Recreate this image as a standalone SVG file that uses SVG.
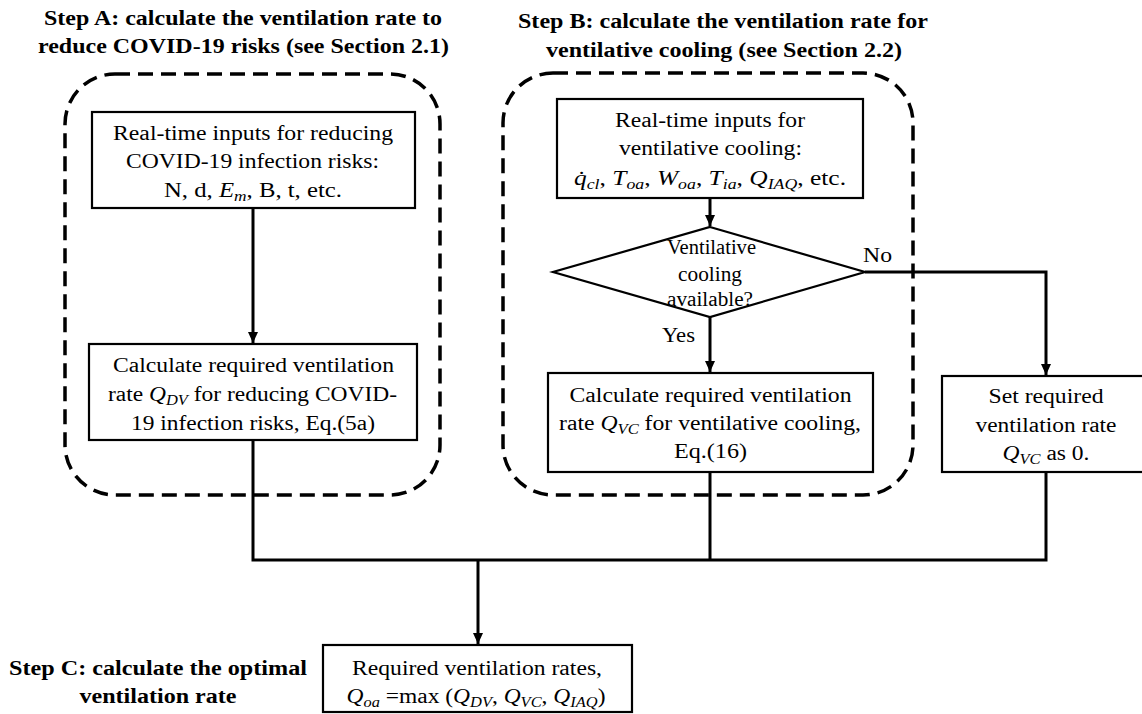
<svg xmlns="http://www.w3.org/2000/svg" width="1142" height="714" viewBox="0 0 1142 714">
<defs>
<style>
text{font-family:"Liberation Serif","Times New Roman",serif;font-size:20px;fill:#000;text-anchor:middle}
.t{font-weight:bold}
.m{font-style:italic}
.s{font-style:italic;font-size:14px}
.box{fill:#fff;stroke:#000;stroke-width:2.2}
.dash{fill:none;stroke:#000;stroke-width:3.5;stroke-dasharray:15 8}
.con{fill:none;stroke:#000;stroke-width:3}
</style>
<marker id="arr" markerUnits="userSpaceOnUse" markerWidth="12" markerHeight="12" refX="11" refY="5" orient="auto">
<path d="M0,0 L11,5 L0,10 z" fill="#000"/>
</marker>
</defs>
<rect width="1142" height="714" fill="#fff"/>

<g id="groupA">
<rect class="dash" x="65" y="74" width="375" height="421" rx="50"/>
<text class="t" x="243" y="25" textLength="398" lengthAdjust="spacingAndGlyphs">Step A: calculate the ventilation rate to</text>
<text class="t" x="243.5" y="53" textLength="411" lengthAdjust="spacingAndGlyphs">reduce COVID-19 risks (see Section 2.1)</text>
</g>
<g id="groupB">
<rect class="dash" x="503" y="73" width="410" height="422" rx="50"/>
<text class="t" x="723" y="28" textLength="410" lengthAdjust="spacingAndGlyphs">Step B: calculate the ventilation rate for</text>
<text class="t" x="724" y="57" textLength="356" lengthAdjust="spacingAndGlyphs">ventilative cooling (see Section 2.2)</text>
</g>
<g id="stepC">
<text class="t" x="158" y="675" textLength="298" lengthAdjust="spacingAndGlyphs">Step C: calculate the optimal</text>
<text class="t" x="158" y="703" textLength="157" lengthAdjust="spacingAndGlyphs">ventilation rate</text>
</g>

<g id="connectors">
<path class="con" d="M253,208 V343" marker-end="url(#arr)"/>
<path class="con" d="M710,198 V226" marker-end="url(#arr)"/>
<path class="con" d="M710,317 V372" marker-end="url(#arr)"/>
<path class="con" d="M865,272 H1046 V375" marker-end="url(#arr)"/>
<path class="con" d="M253,440 V560 H1046 V472"/>
<path class="con" d="M710,472 V560"/>
<path class="con" d="M478,560 V644" marker-end="url(#arr)"/>
<text x="877.5" y="262" textLength="29" lengthAdjust="spacingAndGlyphs">No</text>
<text x="678.5" y="342" textLength="33" lengthAdjust="spacingAndGlyphs">Yes</text>
</g>

<g id="inputsA">
<rect class="box" x="92" y="112" width="323" height="96"/>
<text x="253" y="140" textLength="280" lengthAdjust="spacingAndGlyphs">Real-time inputs for reducing</text>
<text x="252.5" y="168" textLength="253" lengthAdjust="spacingAndGlyphs">COVID-19 infection risks:</text>
<text x="253" y="197" textLength="178" lengthAdjust="spacingAndGlyphs">N, d, <tspan class="m">E</tspan><tspan class="s" dy="4">m</tspan><tspan dy="-4">, B, t, etc.</tspan></text>
</g>

<g id="calcDV">
<rect class="box" x="89" y="344" width="328" height="96"/>
<text x="253.5" y="372" textLength="281" lengthAdjust="spacingAndGlyphs">Calculate required ventilation</text>
<text x="252.5" y="401" textLength="289" lengthAdjust="spacingAndGlyphs">rate <tspan class="m">Q</tspan><tspan class="s" dy="4">DV</tspan><tspan dy="-4"> for reducing COVID-</tspan></text>
<text x="253" y="430" textLength="244" lengthAdjust="spacingAndGlyphs">19 infection risks, Eq.(5a)</text>
</g>

<g id="inputsB">
<rect class="box" x="557" y="99" width="306" height="99"/>
<text x="710" y="127" textLength="190" lengthAdjust="spacingAndGlyphs">Real-time inputs for</text>
<text x="710.5" y="155" textLength="183" lengthAdjust="spacingAndGlyphs">ventilative cooling:</text>
<text x="710" y="185" textLength="272" lengthAdjust="spacingAndGlyphs"><tspan class="m">q̇</tspan><tspan class="s" dy="4">cl</tspan><tspan dy="-4">, </tspan><tspan class="m">T</tspan><tspan class="s" dy="4">oa</tspan><tspan dy="-4">, </tspan><tspan class="m">W</tspan><tspan class="s" dy="4">oa</tspan><tspan dy="-4">, </tspan><tspan class="m">T</tspan><tspan class="s" dy="4">ia</tspan><tspan dy="-4">, </tspan><tspan class="m">Q</tspan><tspan class="s" dy="4">IAQ</tspan><tspan dy="-4">, etc.</tspan></text>
</g>

<g id="decision">
<polygon class="box" points="710,227 865,272 710,317 553,272"/>
<text x="711.5" y="254" font-size="19" textLength="89" lengthAdjust="spacingAndGlyphs">Ventilative</text>
<text x="710" y="281" font-size="19" textLength="64" lengthAdjust="spacingAndGlyphs">cooling</text>
<text x="710" y="306" font-size="19" textLength="86" lengthAdjust="spacingAndGlyphs">available?</text>
</g>

<g id="calcVC">
<rect class="box" x="548" y="373" width="325" height="99"/>
<text x="710.5" y="402" textLength="282" lengthAdjust="spacingAndGlyphs">Calculate required ventilation</text>
<text x="710" y="430" textLength="302" lengthAdjust="spacingAndGlyphs">rate <tspan class="m">Q</tspan><tspan class="s" dy="4">VC</tspan><tspan dy="-4"> for ventilative cooling,</tspan></text>
<text x="710.5" y="458" textLength="73" lengthAdjust="spacingAndGlyphs">Eq.(16)</text>
</g>

<g id="setZero">
<rect class="box" x="942" y="376" width="210" height="96"/>
<text x="1046" y="403" textLength="115" lengthAdjust="spacingAndGlyphs">Set required</text>
<text x="1046" y="432" textLength="141" lengthAdjust="spacingAndGlyphs">ventilation rate</text>
<text x="1046" y="460" textLength="87" lengthAdjust="spacingAndGlyphs"><tspan class="m">Q</tspan><tspan class="s" dy="4">VC</tspan><tspan dy="-4"> as 0.</tspan></text>
</g>

<g id="optimal">
<rect class="box" x="323" y="645" width="309" height="67"/>
<text x="477" y="675" textLength="250" lengthAdjust="spacingAndGlyphs">Required ventilation rates,</text>
<text x="476" y="703" textLength="259" lengthAdjust="spacingAndGlyphs"><tspan class="m">Q</tspan><tspan class="s" dy="4">oa</tspan><tspan dy="-4"> =max (</tspan><tspan class="m">Q</tspan><tspan class="s" dy="4">DV</tspan><tspan dy="-4">, </tspan><tspan class="m">Q</tspan><tspan class="s" dy="4">VC</tspan><tspan dy="-4">, </tspan><tspan class="m">Q</tspan><tspan class="s" dy="4">IAQ</tspan><tspan dy="-4">)</tspan></text>
</g>
</svg>
